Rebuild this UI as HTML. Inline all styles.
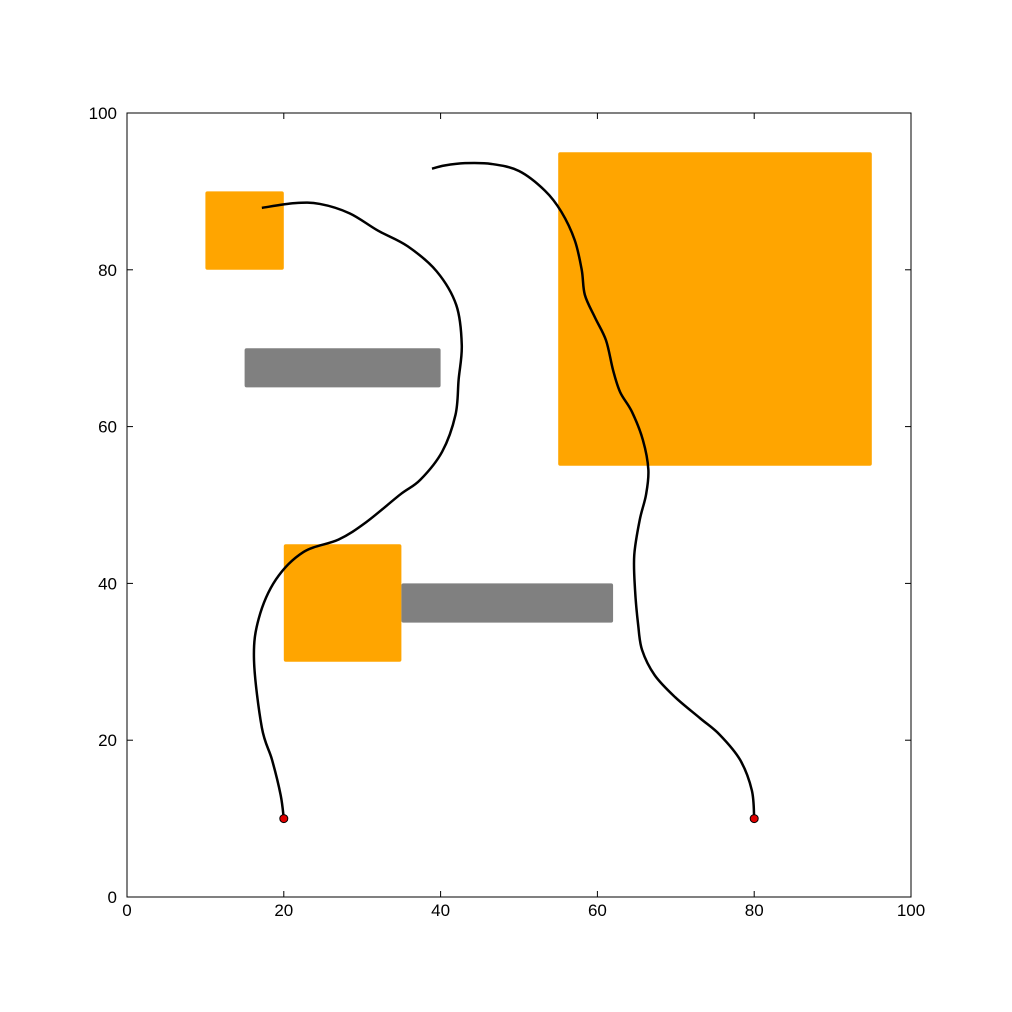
<!DOCTYPE html>
<html><head><meta charset="utf-8"><style>
body{margin:0;background:#fff}
svg{display:block;font-family:"Liberation Sans",sans-serif}
</style></head><body>
<svg id="chart" width="1012" height="1012"></svg>
<script>
const xTicks=[0,20,40,60,80,100];
const yTicks=[0,20,40,60,80,100];
const rectX=[10,15,55,20,35];
const rectY=[80,65,55,30,35];
const rectW=[10,25,40,15,27];
const rectH=[10,5,40,15,5];
const rectKind=["orange","gray","orange","orange","gray"];
const path1X=[20,19.6,18.5,17.2,16.2,16.8,19.0,22.5,27.0,30.5,34.8,37.4,40.2,41.9,42.3,42.7,42.0,39.5,35.8,32.0,28.4,24.6,21.4,17.2];
const path1Y=[10,13,17.5,21.6,30.2,35.5,40.5,44.0,45.6,47.8,51.3,53.2,56.8,61.5,66.0,70.4,75.5,79.8,83.0,85.0,87.2,88.4,88.5,87.9];
const path2X=[80,79.7,78.2,75.6,73.1,69.9,67.3,65.7,65.2,64.8,64.7,65.4,66.2,66.5,65.8,64.4,62.9,62.0,61.1,59.7,58.4,58.0,57.1,55.4,53.3,50.0,46.5,43.1,40.5,38.9];
const path2Y=[10,13.6,17.5,20.7,22.8,25.5,28.3,31.5,34.7,39.2,43.6,48.1,51.3,54.5,58.3,61.9,64.4,67.2,71.0,73.9,76.8,80.0,83.8,87.4,90.1,92.6,93.5,93.6,93.3,92.9];
const startX=[20,80];
const startY=[10,10];

const L=127,R=911,T=113,B=897;
const sx=v=>L+(R-L)*v/100, sy=v=>B-(B-T)*v/100;
const svg=document.getElementById('chart');
const NS='http://www.w3.org/2000/svg';
function mk(t,a,p){const e=document.createElementNS(NS,t);for(const k in a)e.setAttribute(k,a[k]);(p||svg).appendChild(e);return e;}

rectX.forEach((x,i)=>{
  const r=mk('rect',{x:sx(x),y:sy(rectY[i]+rectH[i]),width:sx(x+rectW[i])-sx(x),height:sy(rectY[i])-sy(rectY[i]+rectH[i]),rx:2,fill:rectKind[i]==='orange'?'#ffa500':'#808080'});
  
  
});

function smooth(xs,ys){
  const p=xs.map((x,i)=>[sx(x),sy(ys[i])]);
  let d='M'+p[0][0]+','+p[0][1];
  for(let i=0;i<p.length-1;i++){
    const p0=p[Math.max(0,i-1)],p1=p[i],p2=p[i+1],p3=p[Math.min(p.length-1,i+2)];
    const c1=[p1[0]+(p2[0]-p0[0])/6,p1[1]+(p2[1]-p0[1])/6];
    const c2=[p2[0]-(p3[0]-p1[0])/6,p2[1]-(p3[1]-p1[1])/6];
    d+=`C${c1[0]},${c1[1]} ${c2[0]},${c2[1]} ${p2[0]},${p2[1]}`;
  }
  return d;
}
const pa=mk('path',{d:smooth(path1X,path1Y),fill:'none',stroke:'#000','stroke-width':2.5,'stroke-linejoin':'round'});


const pb=mk('path',{d:smooth(path2X,path2Y),fill:'none',stroke:'#000','stroke-width':2.5,'stroke-linejoin':'round'});



startX.forEach((x,i)=>{
  const c=mk('circle',{cx:sx(x),cy:sy(startY[i]),r:4,fill:'#e00000',stroke:'#000','stroke-width':1});
  
  
});

const frame=mk('rect',{x:L,y:T,width:R-L,height:B-T,fill:'none',stroke:'#000','stroke-width':1});



xTicks.forEach(v=>{
  const x=sx(v);
  mk('line',{x1:x,x2:x,y1:B,y2:B-6,stroke:'#000'});
  mk('line',{x1:x,x2:x,y1:T,y2:T+6,stroke:'#000'});
  const t=mk('text',{x:x,y:B+19,'text-anchor':'middle','font-size':17});
  t.textContent=v;
  
  
});
yTicks.forEach(v=>{
  const y=sy(v);
  mk('line',{x1:L,x2:L+6,y1:y,y2:y,stroke:'#000'});
  mk('line',{x1:R,x2:R-6,y1:y,y2:y,stroke:'#000'});
  const t=mk('text',{x:L-10,y:y+6,'text-anchor':'end','font-size':17});
  t.textContent=v;
  
  
});
</script>
</body></html>
